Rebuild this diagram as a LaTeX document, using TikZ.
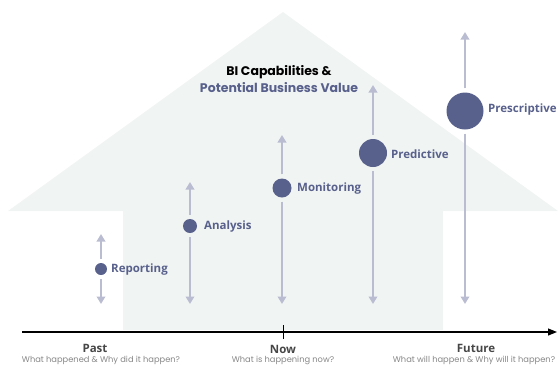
\documentclass[tikz,border=0pt]{standalone}
\usepackage{fontspec}
\setmainfont{Open Sans}
\newfontfamily\geofont{Poppins}
\usetikzlibrary{arrows.meta}

\definecolor{housefill}{RGB}{240,244,242}
\definecolor{dotblue}{RGB}{88,96,140}
\definecolor{stemgray}{RGB}{186,189,210}
\definecolor{eragray}{RGB}{70,70,70}
\definecolor{subgray}{RGB}{135,135,135}

\tikzset{
  capdot/.style={circle,fill=dotblue,inner sep=0pt},
  capname/.style={anchor=west,inner sep=0pt,text=dotblue,
    font=\bfseries\fontsize{11.5}{13}\selectfont},
  stem/.style={draw=stemgray,line width=2.6pt,shorten <=4pt,
    -{Triangle[width=8.5pt,length=7.5pt]}},
  era/.style={inner sep=0pt,text=eragray,font=\bfseries\fontsize{11.5}{13}\selectfont},
  eranote/.style={inner sep=0pt,text=subgray,font=\geofont\fontsize{8.3}{10}\selectfont},
  heading/.style={inner sep=0pt,font=\geofont\bfseries\fontsize{12.5}{15}\selectfont}
}

\begin{document}
\begin{tikzpicture}[x=1pt,y=-1pt]
  \useasboundingbox (0,0) rectangle (560,365);

  % house in the background
  \fill[housefill] (8,211) -- (283,12) -- (558,211) -- (443,211)
    -- (443,330) -- (123,330) -- (123,211) -- cycle;

  % heading
  \node[heading] (head1) at (279,72) {BI Capabilities \&};
  \node[heading,text=dotblue] (head2) at (279,88) {Potential Business Value};

  % capabilities
  \draw
    (101,269) node[capdot,minimum size=12pt] (rep){}
    (190,226) node[capdot,minimum size=14pt] (ana){}
    (282,188) node[capdot,minimum size=19pt] (mon){}
    (373,153) node[capdot,minimum size=28pt] (pred){}
    (465,111) node[capdot,minimum size=37pt] (pres){};
  \node[capname] (rep-l) at (111,270) {Reporting};
  \node[capname] (ana-l) at (204,227) {Analysis};
  \node[capname] (mon-l) at (297,189) {Monitoring};
  \node[capname] (pred-l) at (391,154) {Predictive};
  \node[capname] (pres-l) at (488,110) {Prescriptive};

  \draw
    (101,234) coordinate (rep-up)  (101,304) coordinate (rep-dn)
    (190,182) coordinate (ana-up)  (190,304) coordinate (ana-dn)
    (282,135) coordinate (mon-up)  (282,304) coordinate (mon-dn)
    (373,85)  coordinate (pred-up) (373,304) coordinate (pred-dn)
    (465,32)  coordinate (pres-up) (465,304) coordinate (pres-dn);
  \begin{scope}[stem]
    \draw (rep) to (rep-up);
    \draw (rep) to (rep-dn);
    \draw (ana) to (ana-up);
    \draw (ana) to (ana-dn);
    \draw (mon) to (mon-up);
    \draw (mon) to (mon-dn);
    \draw (pred) to (pred-up);
    \draw (pred) to (pred-dn);
    \draw (pres) to (pres-up);
    \draw (pres) to (pres-dn);
  \end{scope}

  % time axis
  \coordinate (ax-l) at (22,332);
  \coordinate (ax-r) at (557,332);
  \coordinate (tick-t) at (283,325);
  \coordinate (tick-b) at (283,339);
  \draw[line width=1.1pt,-{Triangle[width=7pt,length=9pt]}] (ax-l) -- (ax-r);
  \draw[line width=0.5pt] (tick-t) -- (tick-b);

  \node[era] (past) at (95,348) {Past};
  \node[era] (now) at (283,349) {Now};
  \node[era] (future) at (476,348) {Future};
  \node[eranote] (past-n) at (101,360) {What happened \& Why did it happen?};
  \node[eranote] (now-n) at (283,360) {What is happening now?};
  \node[eranote] (future-n) at (474,360) {What will happen \& Why will it happen?};
\end{tikzpicture}
\end{document}
